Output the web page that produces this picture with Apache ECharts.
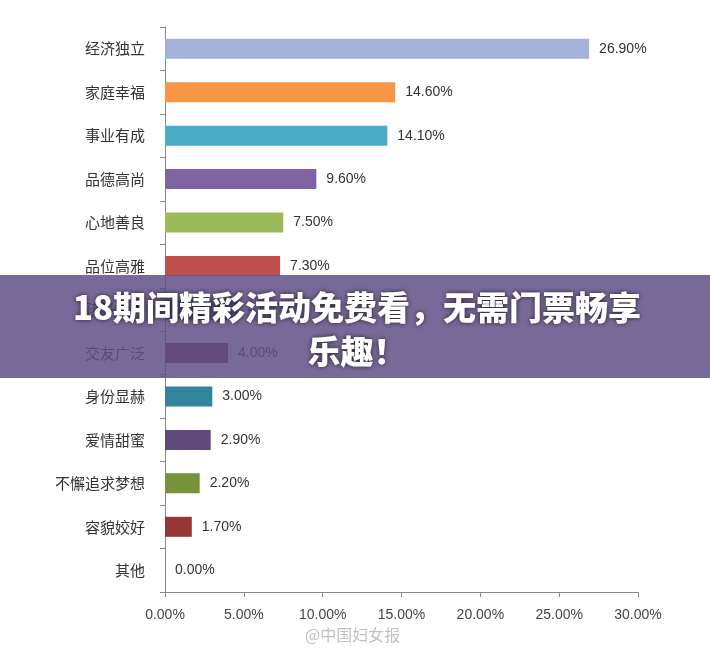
<!DOCTYPE html><html><head><meta charset="utf-8"><script src="https://cdn.jsdelivr.net/npm/echarts@6/dist/echarts.min.js"></script>
<style>html,body{margin:0;background:#fff}#c{width:710px;height:655px}</style></head><body><div id="c"></div><script>
const categories=['经济独立','家庭幸福','事业有成','品德高尚','心地善良','品位高雅','孩子优秀','交友广泛','身份显赫','爱情甜蜜','不懈追求梦想','容貌姣好','其他'];
const values=[26.9,14.6,14.1,9.6,7.5,7.3,4.6,4.0,3.0,2.9,2.2,1.7,0.0];
const colors=['#A5B2D8','#F79646','#4BACC6','#8064A2','#9BBB59','#C0504D','#1F497D','#772C3A','#31859C','#5F497A','#76923C','#953735','#999'];
const xTicks=[0,5,10,15,20,25,30];
const chart=echarts.init(document.getElementById('c'));
chart.setOption({
animation:false,
grid:{left:165,right:72,top:27,bottom:63},
xAxis:{type:'value',min:0,max:30,interval:5,splitLine:{show:false},axisLine:{show:true,lineStyle:{color:'#888'}},axisTick:{show:true,lineStyle:{color:'#888'}},
axisLabel:{color:'#444',fontSize:14,fontFamily:'Liberation Sans',margin:16,formatter:v=>v.toFixed(2)+'%'}},
yAxis:{type:'category',inverse:true,data:categories,axisLine:{lineStyle:{color:'#888'}},axisTick:{show:true,lineStyle:{color:'#888'}},
axisLabel:{color:'#333',fontSize:15,fontFamily:'Noto Sans CJK SC',margin:20}},
series:[{type:'bar',data:values.map((v,i)=>({value:v,itemStyle:{color:colors[i]}})),barWidth:20,
label:{show:true,position:'right',distance:10,color:'#333',fontSize:14,fontFamily:'Liberation Sans',formatter:p=>p.value.toFixed(2)+'%'}}],
graphic:[
{type:'rect',left:0,top:275,shape:{width:710,height:103},style:{fill:'rgba(95,80,135,0.85)'},z:100},
{type:'text',x:357,y:285,style:{text:'18期间精彩活动免费看，无需门票畅享\n乐趣！',fill:'#fff',font:'900 33px "Noto Sans CJK SC"',textAlign:'center',lineHeight:44,textShadowColor:'rgba(0,0,0,0.7)',textShadowBlur:5},z:101},
{type:'text',left:305,top:627,style:{text:'@中国妇女报',fill:'rgba(150,150,150,0.6)',font:'16px "Noto Sans CJK SC"'},z:101}
]});
</script></body></html>
